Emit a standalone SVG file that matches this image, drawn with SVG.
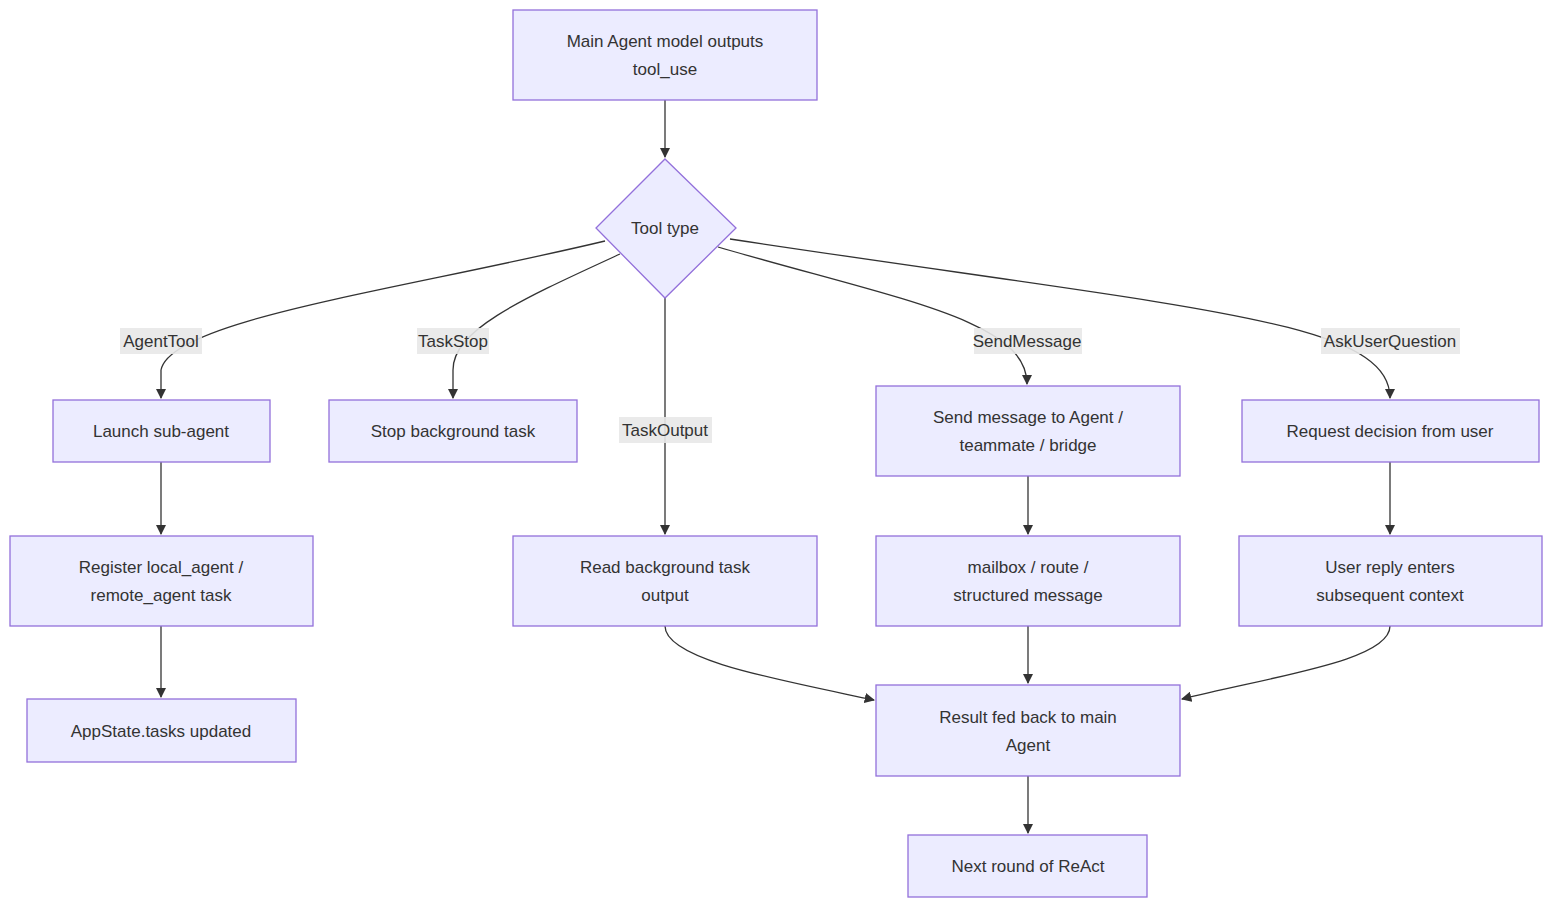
<svg xmlns="http://www.w3.org/2000/svg" width="1568" height="918" viewBox="0 0 1568 918">
<style>
.n rect,.n polygon{fill:#ECECFF;stroke:#9370DB;stroke-width:1.3}
text{font-family:"Liberation Sans","DejaVu Sans",sans-serif;font-size:17px;fill:#333;text-anchor:middle;dominant-baseline:central}
.e path{fill:none;stroke:#333;stroke-width:1.3;marker-end:url(#a)}
.lb{fill:#e8e8e8;opacity:0.9}
</style>
<defs><marker id="a" viewBox="0 0 10 10" refX="9" refY="5" markerWidth="8" markerHeight="8" orient="auto"><path d="M0,0L10,5L0,10z" fill="#333"/></marker></defs>
<rect width="1568" height="918" fill="#fff"/>
<g class="e">
<path d="M665,100 L665,157"/>
<path d="M605,241 C400,290 170,320 161,370 L161,398"/>
<path d="M620,254 C520,300 453,330 453,370 L453,398"/>
<path d="M665,298 L665,534"/>
<path d="M718,247 C900,300 1027,320 1027,384"/>
<path d="M730,239 C1200,310 1390,320 1390,398"/>
<path d="M161,462 L161,534"/>
<path d="M161,626 L161,697"/>
<path d="M1028,476 L1028,534"/>
<path d="M1390,462 L1390,534"/>
<path d="M665,626 C665,660 780,680 874,700"/>
<path d="M1028,626 L1028,683"/>
<path d="M1390,626 C1390,660 1280,675 1182,699"/>
<path d="M1028,776 L1028,833"/>
<rect class="lb" x="120" y="328" width="82" height="26"/><text x="161" y="341">AgentTool</text>
<rect class="lb" x="417" y="328" width="72" height="26"/><text x="453" y="341">TaskStop</text>
<rect class="lb" x="619" y="417" width="93" height="26"/><text x="665" y="430">TaskOutput</text>
<rect class="lb" x="974" y="328" width="108" height="26"/><text x="1027" y="341">SendMessage</text>
<rect class="lb" x="1321" y="328" width="139" height="26"/><text x="1390" y="341">AskUserQuestion</text>
</g>
<g id="main" class="n"><rect x="513" y="10" width="304" height="90"/><text x="665" y="41">Main Agent model outputs</text><text x="665" y="69">tool_use</text></g>
<g id="type" class="n"><polygon points="665,159 736,228 665,298 596,228"/><text x="665" y="228">Tool type</text></g>
<g id="launch" class="n"><rect x="53" y="400" width="217" height="62"/><text x="161" y="431">Launch sub-agent</text></g>
<g id="stop" class="n"><rect x="329" y="400" width="248" height="62"/><text x="453" y="431">Stop background task</text></g>
<g id="send" class="n"><rect x="876" y="386" width="304" height="90"/><text x="1028" y="417">Send message to Agent /</text><text x="1028" y="445">teammate / bridge</text></g>
<g id="request" class="n"><rect x="1242" y="400" width="297" height="62"/><text x="1390" y="431">Request decision from user</text></g>
<g id="register" class="n"><rect x="10" y="536" width="303" height="90"/><text x="161" y="567">Register local_agent /</text><text x="161" y="595">remote_agent task</text></g>
<g id="read" class="n"><rect x="513" y="536" width="304" height="90"/><text x="665" y="567">Read background task</text><text x="665" y="595">output</text></g>
<g id="mailbox" class="n"><rect x="876" y="536" width="304" height="90"/><text x="1028" y="567">mailbox / route /</text><text x="1028" y="595">structured message</text></g>
<g id="reply" class="n"><rect x="1239" y="536" width="303" height="90"/><text x="1390" y="567">User reply enters</text><text x="1390" y="595">subsequent context</text></g>
<g id="appstate" class="n"><rect x="27" y="699" width="269" height="63"/><text x="161" y="731">AppState.tasks updated</text></g>
<g id="result" class="n"><rect x="876" y="685" width="304" height="91"/><text x="1028" y="717">Result fed back to main</text><text x="1028" y="745">Agent</text></g>
<g id="next" class="n"><rect x="908" y="835" width="239" height="62"/><text x="1028" y="866">Next round of ReAct</text></g>
</svg>
